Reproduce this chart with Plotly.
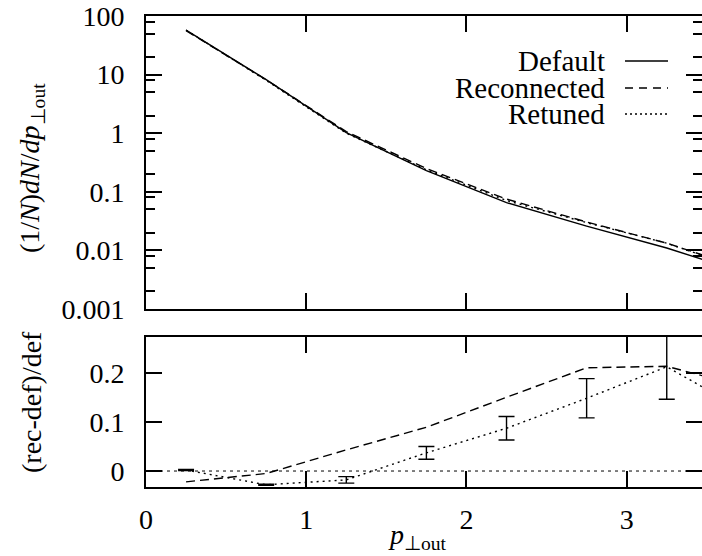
import plotly.graph_objects as go

# ---- data ----
pt_bins = [0.25, 0.75, 1.25, 1.75, 2.25, 2.75, 3.25, 3.75]
default_vals = [57.5, 8.2, 1.02, 0.229, 0.0653, 0.026, 0.011, 0.0040]
reconnected_vals = [56.2, 8.16, 1.064, 0.249, 0.0751, 0.0305, 0.0133, 0.00468]
retuned_vals = [57.6, 7.97, 1.0, 0.2375, 0.071, 0.0298, 0.0133, 0.00448]

ratio_reconnected = [-0.022, -0.005, 0.043, 0.089, 0.150, 0.210, 0.213, 0.170]
ratio_retuned = [0.002, -0.028, -0.018, 0.037, 0.087, 0.148, 0.212, 0.120]
ratio_retuned_err = [0.001, 0.001, 0.0067, 0.013, 0.024, 0.040, 0.066, 0.10]

log_tick_vals = [0.001, 0.01, 0.1, 1, 10, 100]
log_tick_text = ["0.001", "0.01", "0.1", "1", "10", "100"]
ratio_tick_vals = [0, 0.1, 0.2]
ratio_tick_text = ["0", "0.1", "0.2"]
x_tick_vals = [0, 1, 2, 3]
x_tick_text = ["0", "1", "2", "3"]
legend_names = ["Default", "Reconnected", "Retuned"]

FONT = "Liberation Serif, Times New Roman, serif"
FS = 28
FS_LEG = 29
W, H = 702, 556
ML, MR, MT, MB = 146, 0, 16, 69
PW, PH = W - ML - MR, H - MT - MB


def py(y_px):
    """pixel row -> paper y (plot-area relative)"""
    return (H - MB - y_px) / PH


def px(x_px):
    return (x_px - ML) / PW


minor_log = []
for dec in [0.001, 0.01, 0.1, 1, 10]:
    for m in (2, 5, 8):
        minor_log.append(dec * m)

fig = go.Figure()

line_solid = dict(color="black", width=1.4)
line_dash = dict(color="black", width=1.4, dash="9px,5px")
line_dot = dict(color="black", width=1.4, dash="2px,4px")

# top panel
fig.add_trace(go.Scatter(x=pt_bins, y=default_vals, mode="lines", line=line_solid,
                         xaxis="x", yaxis="y", showlegend=False, name=legend_names[0]))
fig.add_trace(go.Scatter(x=pt_bins, y=reconnected_vals, mode="lines", line=line_dash,
                         xaxis="x", yaxis="y", showlegend=False, name=legend_names[1]))
fig.add_trace(go.Scatter(x=pt_bins, y=retuned_vals, mode="lines", line=line_dot,
                         xaxis="x", yaxis="y", showlegend=False, name=legend_names[2]))

# bottom panel
fig.add_trace(go.Scatter(x=pt_bins, y=ratio_reconnected, mode="lines", line=line_dash,
                         xaxis="x2", yaxis="y2", showlegend=False))
fig.add_trace(go.Scatter(x=pt_bins, y=ratio_retuned, mode="lines", line=line_dot,
                         error_y=dict(type="data", array=ratio_retuned_err, visible=True,
                                      color="black", thickness=1.4, width=8),
                         xaxis="x2", yaxis="y2", showlegend=False))

# zero reference line in ratio panel
fig.add_shape(type="line", xref="x2 domain", yref="y2", x0=0, x1=1, y0=0, y1=0,
              line=dict(color="black", width=1, dash="3px,4px"), layer="below")

top_dom = [py(309), 1.0]
bot_dom = [0.0, py(337)]

axis_common = dict(showline=True, linecolor="black", linewidth=2, mirror="ticks",
                   ticks="inside", ticklen=16, tickwidth=2, tickcolor="black",
                   showgrid=False, zeroline=False, automargin=False,
                   tickfont=dict(family=FONT, size=FS, color="black"))

fig.update_layout(
    width=W, height=H,
    margin=dict(l=ML, r=MR, t=MT, b=MB, autoexpand=False),
    paper_bgcolor="white", plot_bgcolor="white",
    font=dict(family=FONT, size=FS, color="black"),
    xaxis=dict(domain=[0, 1.0], range=[0, 3.47], anchor="y",
               tickvals=x_tick_vals, showticklabels=False, **axis_common),
    yaxis=dict(domain=top_dom, type="log", range=[-3, 2], anchor="x",
               tickvals=log_tick_vals, ticktext=log_tick_text, ticklabelstandoff=14,
               minor=dict(tickvals=minor_log, ticks="inside", ticklen=9, tickwidth=2,
                          tickcolor="black", showgrid=False),
               **axis_common),
    xaxis2=dict(domain=[0, 1.0], range=[0, 3.47], anchor="y2",
                tickvals=x_tick_vals, ticktext=x_tick_text, ticklabelstandoff=6,
                **axis_common),
    yaxis2=dict(domain=bot_dom, range=[-0.0325, 0.2726], anchor="x2",
                tickvals=ratio_tick_vals, ticktext=ratio_tick_text, ticklabelstandoff=14,
                **axis_common),
)

# axis titles as annotations
fig.add_annotation(xref="paper", yref="paper", x=px(31), y=py(168),
                   text="(1/<i>N</i>)<i>dN</i>/<i>dp</i><sub>⊥out</sub>", textangle=-90,
                   showarrow=False, xanchor="center", yanchor="middle",
                   font=dict(family=FONT, size=FS, color="black"))
fig.add_annotation(xref="paper", yref="paper", x=px(31), y=py(402),
                   text="(rec-def)/def", textangle=-90,
                   showarrow=False, xanchor="center", yanchor="middle",
                   font=dict(family=FONT, size=FS, color="black"))
fig.add_annotation(xref="paper", yref="paper", x=px(417), y=py(536),
                   text="<i>p</i><sub>⊥out</sub>",
                   showarrow=False, xanchor="center", yanchor="middle",
                   font=dict(family=FONT, size=FS, color="black"))

# legend: right-aligned text with line sample to its right
legend_y = [61, 88, 114]
legend_dashes = ["solid", "8px,6px", "2px,3px"]
for name, yy, dsh in zip(legend_names, legend_y, legend_dashes):
    yp = py(yy)
    fig.add_annotation(xref="paper", yref="paper", x=px(606), y=yp, text=name,
                       showarrow=False, xanchor="right", yanchor="middle", borderpad=0,
                       font=dict(family=FONT, size=FS_LEG, color="black"))
    fig.add_shape(type="line", xref="paper", yref="paper", x0=px(625), x1=px(668),
                  y0=yp, y1=yp, line=dict(color="black", width=1.4, dash=dsh))

fig.write_html("out.html", config={"displayModeBar": False},
               post_script="document.body.style.margin='0px';document.body.style.padding='0px';")
